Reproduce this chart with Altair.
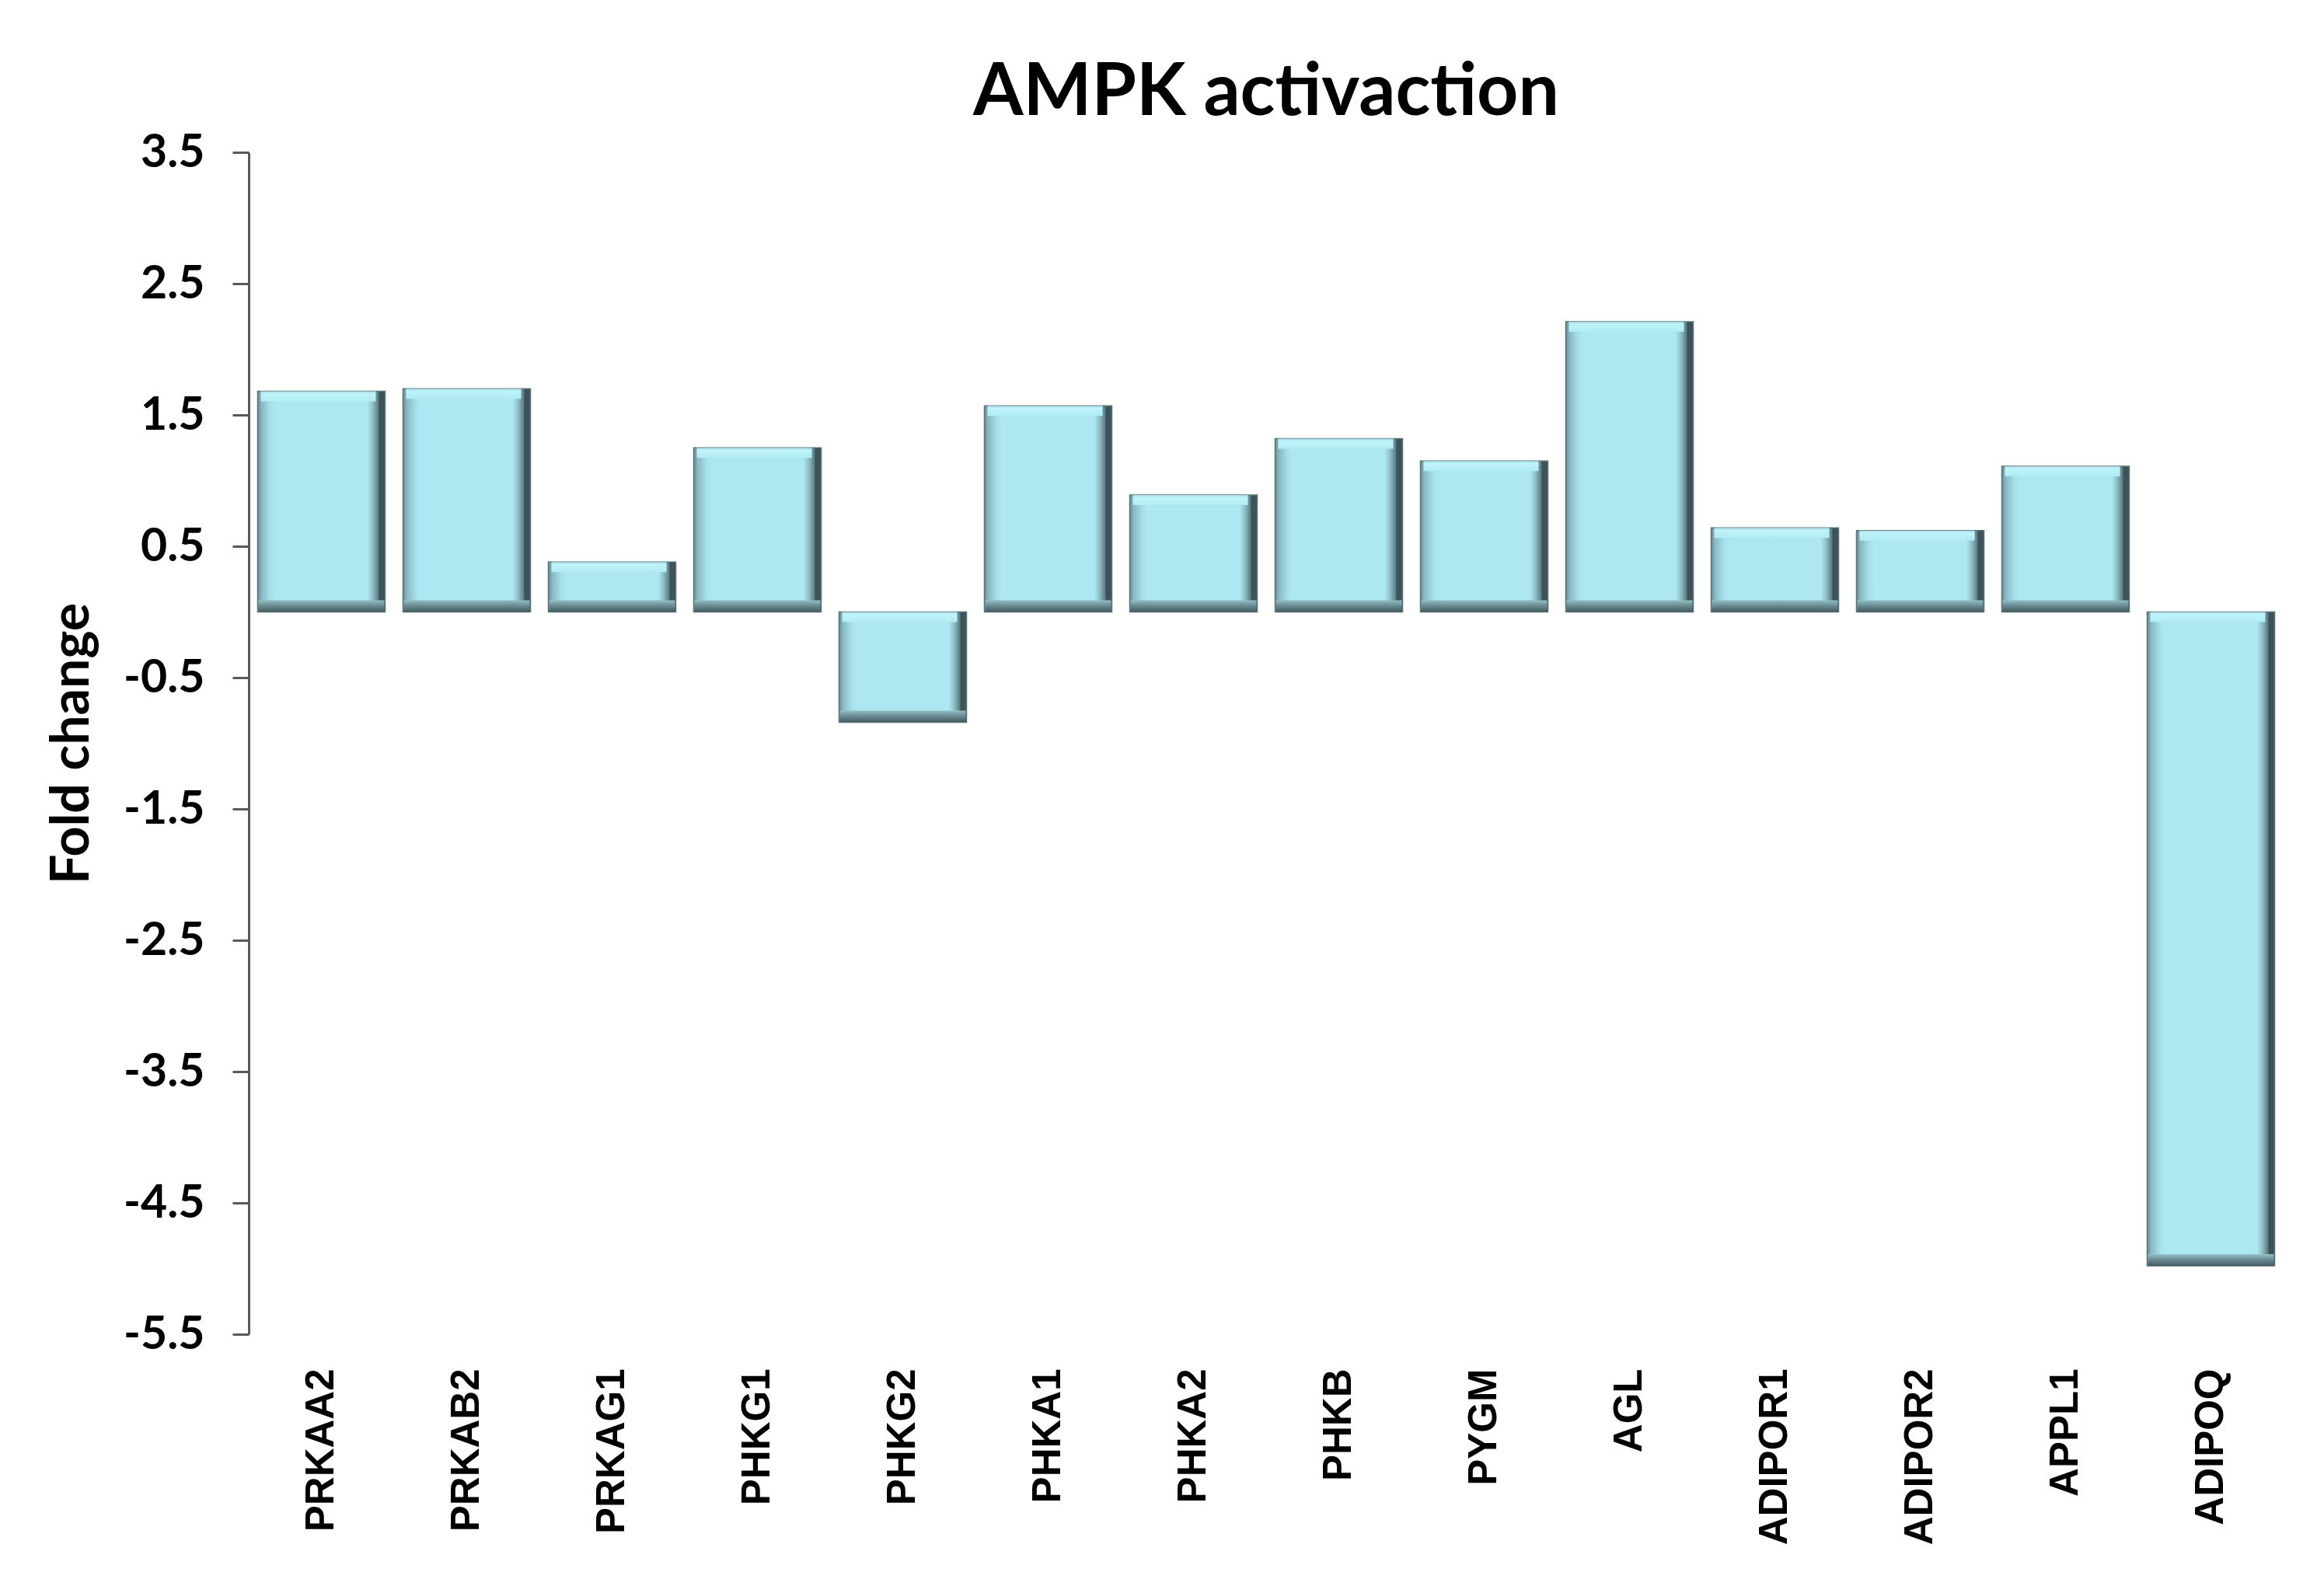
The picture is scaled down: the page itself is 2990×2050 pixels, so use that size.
import altair as alt
import pandas as pd

genes = ["PRKAA2", "PRKAB2", "PRKAG1", "PHKG1", "PHKG2", "PHKA1", "PHKA2",
         "PHKB", "PYGM", "AGL", "ADIPOR1", "ADIPOR2", "APPL1", "ADIPOQ"]
fold_change = [1.68, 1.70, 0.38, 1.25, -0.84, 1.57, 0.89,
               1.32, 1.15, 2.21, 0.64, 0.62, 1.11, -4.98]
y_ticks = [3.5, 2.5, 1.5, 0.5, -0.5, -1.5, -2.5, -3.5, -4.5, -5.5]

df = pd.DataFrame({"gene": genes, "fc": fold_change})

W, H = 2618, 1521
BAR_W = 164

x_enc = alt.X("gene:N", sort=genes,
              scale=alt.Scale(paddingInner=0, paddingOuter=0),
              axis=alt.Axis(title=None, domain=False, ticks=False,
                            labelAngle=270, labelAlign="right", labelBaseline="middle",
                            labelFont="Liberation Sans", labelFontWeight="bold",
                            labelFontSize=51, labelColor="#000000", labelPadding=44,
                            labelLimit=0))
y_scale = alt.Scale(domain=[-5.5, 3.5], nice=False, zero=False)

base = alt.Chart(df).transform_calculate(
    top="max(datum.fc, 0)", bot="min(datum.fc, 0)"
)

horiz = alt.Gradient(
    gradient="linear", x1=0, y1=0, x2=1, y2=0,
    stops=[
        alt.GradientStop(offset=0.0, color="#678c93"),
        alt.GradientStop(offset=0.03, color="#88b9c2"),
        alt.GradientStop(offset=0.10, color="#a6e0ea"),
        alt.GradientStop(offset=0.14, color="#ade8f2"),
        alt.GradientStop(offset=0.86, color="#ade8f2"),
        alt.GradientStop(offset=0.90, color="#92c2ca"),
        alt.GradientStop(offset=0.945, color="#5e8087"),
        alt.GradientStop(offset=0.955, color="#3d5358"),
        alt.GradientStop(offset=1.0, color="#3d5358"),
    ],
)
top_grad = alt.Gradient(
    gradient="linear", x1=0, y1=0, x2=0, y2=1,
    stops=[
        alt.GradientStop(offset=0.0, color="#a6d8e0"),
        alt.GradientStop(offset=0.25, color="#bff3fa"),
        alt.GradientStop(offset=1.0, color="#b0ebf4"),
    ],
)
bot_grad = alt.Gradient(
    gradient="linear", x1=0, y1=0, x2=0, y2=1,
    stops=[
        alt.GradientStop(offset=0.0, color="#93bec5"),
        alt.GradientStop(offset=0.45, color="#6a8d93"),
        alt.GradientStop(offset=1.0, color="#435b60"),
    ],
)

main = base.mark_bar(width=BAR_W, fill=horiz, stroke="#5a747a", strokeWidth=1.5).encode(
    x=x_enc,
    y=alt.Y("top:Q", scale=y_scale,
            axis=alt.Axis(values=y_ticks, labelExpr="datum.value + ''",
                          grid=False, domainColor="#595959", domainWidth=3,
                          tickColor="#595959", tickWidth=3, tickSize=21,
                          labelFont="Lato", labelFontWeight="bold", labelFontSize=59,
                          labelColor="#000000", labelPadding=36,
                          title="Fold change", titleFont="Lato", titleFontWeight="bold",
                          titleFontSize=68, titleColor="#000000", titleAngle=270,
                          titleAlign="center", titleBaseline="alphabetic",
                          titleX=-207, titleY=H / 2)),
    y2="bot:Q",
)

top_strip = base.mark_bar(width=BAR_W - 16, xOffset=-4, y2Offset=13, fill=top_grad).encode(
    x=alt.X("gene:N", sort=genes),
    y=alt.Y("top:Q", scale=y_scale),
    y2="top:Q",
)

bot_strip = base.mark_bar(width=BAR_W - 2, yOffset=-15, fill=bot_grad).encode(
    x=alt.X("gene:N", sort=genes),
    y=alt.Y("bot:Q", scale=y_scale),
    y2="bot:Q",
)

chart = alt.layer(main, top_strip, bot_strip).properties(
    width=W, height=H,
    title=alt.TitleParams("AMPK activaction", font="Lato", fontWeight="bold",
                          fontSize=93, color="#000000", anchor="middle",
                          frame="group", baseline="alphabetic", offset=-74),
    autosize=alt.AutoSizeParams(type="none"),
    padding={"left": 312, "top": 188, "right": 44, "bottom": 330},
    background="#ffffff",
).configure_view(stroke=None, strokeWidth=0)

chart.save("out.html", embed_options={"renderer": "svg", "actions": False})
